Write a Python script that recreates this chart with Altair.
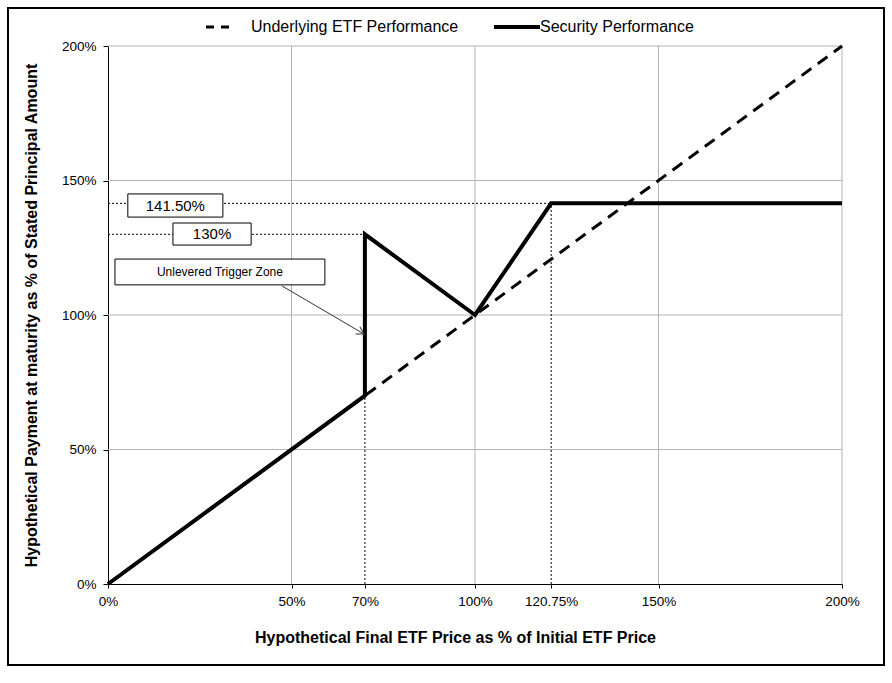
import altair as alt
import pandas as pd

# ---- data ----
sec_x = [0, 70, 70, 100, 120.75, 200]
sec_y = [0, 70, 130, 100, 141.5, 141.5]
etf_x = [0, 200]
etf_y = [0, 200]
x_ticks = [0, 50, 70, 100, 120.75, 150, 200]
y_ticks = [0, 50, 100, 150, 200]
grid_vals = [50, 100, 150, 200]
guide_x0 = [0, 0, 70, 120.75]
guide_x1 = [120.75, 70, 70, 120.75]
guide_y0 = [141.5, 130, 0, 0]
guide_y1 = [141.5, 130, 70, 141.5]
box_labels = ["141.50%", "130%", "Unlevered Trigger Zone"]
box_x0 = [5.4, 17.7, 1.9]
box_x1 = [31.3, 39.0, 59.1]
box_y0 = [136.4, 126.0, 111.2]
box_y1 = [145.0, 134.2, 120.8]
box_size = [15, 15, 12]
arrow_from = (47.4, 110.8)
arrow_to = (69.8, 92.9)
legend_labels = ["Underlying ETF Performance", "Security Performance"]

W, H = 734, 538
NARROW = "Liberation Sans Narrow, Arial Narrow, Liberation Sans, Arial"
SANS = "Liberation Sans, Arial"

xs = alt.Scale(domain=[0, 200], nice=False, zero=False)
ys = alt.Scale(domain=[0, 200], nice=False, zero=False)
xaxis = alt.Axis(values=x_ticks, labelExpr="datum.value + '%'", grid=False,
                 title="Hypothetical Final ETF Price as % of Initial ETF Price",
                 labelFont=SANS, labelFontSize=13.5, labelColor="black",
                 labelPadding=6, tickSize=4, tickColor="black", domainColor="black",
                 titleFont=NARROW, titleFontSize=16, titleFontWeight="bold",
                 titleColor="black", titlePadding=22, labelFlush=False,
                 titleX=347, titleAnchor="start", titleAlign="center")
yaxis = alt.Axis(values=y_ticks, labelExpr="datum.value + '%'", grid=False,
                 title="Hypothetical Payment at maturity as % of Stated Principal Amount",
                 labelFont=SANS, labelFontSize=13.5, labelColor="black",
                 labelPadding=7, tickSize=5, tickColor="black", domainColor="black",
                 titleFont=NARROW, titleFontSize=16, titleFontWeight="bold",
                 titleColor="black", titlePadding=22, labelFlush=False)

gdf = pd.DataFrame({"v": grid_vals})
grid_v = alt.Chart(gdf).mark_rule(color="#b3b3b3", strokeWidth=1).encode(
    x=alt.X("v:Q", scale=xs, axis=xaxis))
grid_h = alt.Chart(gdf).mark_rule(color="#b3b3b3", strokeWidth=1).encode(
    y=alt.Y("v:Q", scale=ys, axis=yaxis))

guides = alt.Chart(pd.DataFrame({"x0": guide_x0, "x1": guide_x1, "y0": guide_y0, "y1": guide_y1})
                   ).mark_rule(color="black", strokeWidth=1, strokeDash=[2, 2]).encode(
    x=alt.X("x0:Q", scale=xs, axis=xaxis), x2="x1:Q",
    y=alt.Y("y0:Q", scale=ys, axis=yaxis), y2="y1:Q")

etf = alt.Chart(pd.DataFrame({"x": etf_x, "y": etf_y})).mark_line(
    color="black", strokeWidth=3, strokeDash=[12, 8]).encode(
    x=alt.X("x:Q", scale=xs, axis=xaxis), y=alt.Y("y:Q", scale=ys, axis=yaxis))

sec = alt.Chart(pd.DataFrame({"x": sec_x, "y": sec_y, "i": list(range(len(sec_x)))})).mark_line(
    color="black", strokeWidth=4, strokeJoin="miter").encode(
    x=alt.X("x:Q", scale=xs, axis=xaxis), y=alt.Y("y:Q", scale=ys, axis=yaxis),
    order="i:Q")

bdf = pd.DataFrame({"label": box_labels, "x0": box_x0, "x1": box_x1, "y0": box_y0, "y1": box_y1,
                    "size": box_size})
bdf["xc"] = (bdf["x0"] + bdf["x1"]) / 2
bdf["yc"] = (bdf["y0"] + bdf["y1"]) / 2
boxes = alt.Chart(bdf).mark_rect(fill="white", stroke="black", strokeWidth=1).encode(
    x=alt.X("x0:Q", scale=xs, axis=xaxis), x2="x1:Q",
    y=alt.Y("y0:Q", scale=ys, axis=yaxis), y2="y1:Q")
box_text = alt.Chart(bdf).mark_text(font=SANS, color="black", baseline="middle", align="center").encode(
    x=alt.X("xc:Q", scale=xs, axis=xaxis), y=alt.Y("yc:Q", scale=ys, axis=yaxis),
    text="label:N", size=alt.Size("size:Q", scale=None, legend=None))

adf = pd.DataFrame({"x0": [arrow_from[0]], "y0": [arrow_from[1]], "x1": [arrow_to[0]], "y1": [arrow_to[1]]})
arrow = alt.Chart(adf).mark_rule(color="#333333", strokeWidth=1).encode(
    x=alt.X("x0:Q", scale=xs, axis=xaxis), x2="x1:Q",
    y=alt.Y("y0:Q", scale=ys, axis=yaxis), y2="y1:Q")
head = alt.Chart(adf).mark_point(shape="M-0.55,1L0,0L0.55,1", filled=False, size=220,
                                 angle=120, color="#333333", strokeWidth=1, opacity=1).encode(
    x=alt.X("x1:Q", scale=xs, axis=xaxis), y=alt.Y("y1:Q", scale=ys, axis=yaxis))

# legend (drawn manually at top)
leg1 = alt.Chart().mark_rule(color="black", strokeWidth=3, strokeDash=[8, 7]).encode(
    x=alt.value(98), x2=alt.value(128), y=alt.value(-19), y2=alt.value(-19))
leg1t = alt.Chart().mark_text(font=NARROW, fontSize=16, align="left", baseline="middle",
                               color="black").encode(
    x=alt.value(143), y=alt.value(-19), text=alt.value(legend_labels[0]))
leg2 = alt.Chart().mark_rule(color="black", strokeWidth=4).encode(
    x=alt.value(386), x2=alt.value(432), y=alt.value(-19), y2=alt.value(-19))
leg2t = alt.Chart().mark_text(font=NARROW, fontSize=16, align="left", baseline="middle",
                               color="black").encode(
    x=alt.value(432), y=alt.value(-19), text=alt.value(legend_labels[1]))

frame = alt.Chart().mark_rect(fill=None, stroke="black", strokeWidth=2).encode(
    x=alt.value(-100), x2=alt.value(776), y=alt.value(-38), y2=alt.value(619))

chart = alt.layer(grid_v, grid_h, guides, etf, sec, boxes, box_text, arrow, head,
                  leg1, leg1t, leg2, leg2t, frame).properties(
    width=W, height=H, autosize="none",
    padding={"left": 108, "top": 46, "right": 50, "bottom": 99},
    background="white").configure_view(stroke=None)

chart.save("out.html", embed_options={"renderer": "svg", "actions": False})
